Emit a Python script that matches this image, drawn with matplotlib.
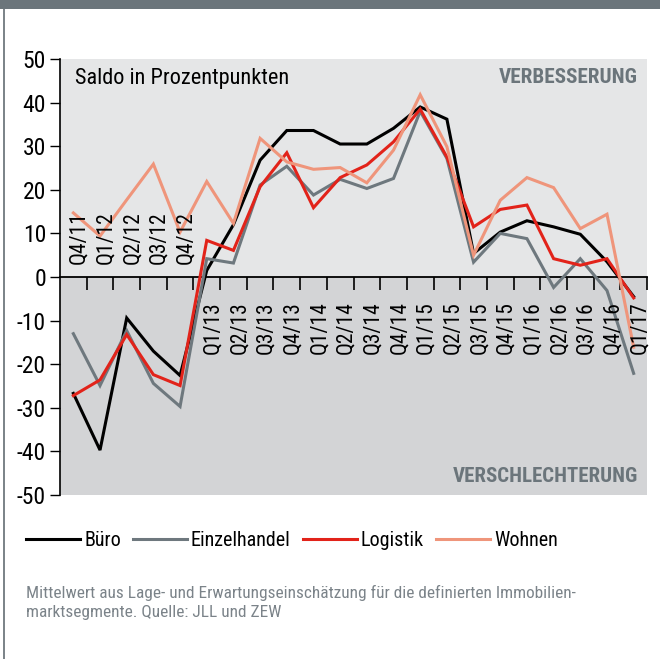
import matplotlib
matplotlib.use("Agg")
import matplotlib.pyplot as plt
from matplotlib.patches import Rectangle

plt.rcParams['font.family'] = ['Roboto Condensed', 'Liberation Sans Narrow', 'Roboto', 'DejaVu Sans']
plt.rcParams['axes.unicode_minus'] = False

quarters = ['Q4/11', 'Q1/12', 'Q2/12', 'Q3/12', 'Q4/12',
            'Q1/13', 'Q2/13', 'Q3/13', 'Q4/13',
            'Q1/14', 'Q2/14', 'Q3/14', 'Q4/14',
            'Q1/15', 'Q2/15', 'Q3/15', 'Q4/15',
            'Q1/16', 'Q2/16', 'Q3/16', 'Q4/16', 'Q1/17']

buero = [-26.7, -39.7, -9.4, -17.0, -22.6, 1.5, 12.0, 26.8, 33.6, 33.6, 30.5,
         30.5, 34.1, 39.0, 36.2, 5.4, 10.3, 12.9, 11.5, 9.8, 3.5, -4.5]
einzelhandel = [-13.0, -24.9, -12.3, -24.4, -29.7, 4.2, 3.2, 21.1, 25.4, 18.8, 22.4,
                20.3, 22.6, 38.0, 27.2, 3.4, 10.0, 8.8, -2.4, 4.2, -3.1, -22.1]
logistik = [-27.2, -23.6, -13.2, -22.4, -24.9, 8.4, 6.1, 20.7, 28.5, 15.9, 22.8,
            25.7, 31.0, 38.5, 27.5, 11.5, 15.5, 16.5, 4.2, 2.7, 4.2, -4.8]
wohnen = [14.7, 9.4, 17.7, 25.9, 10.3, 21.9, 12.3, 31.8, 26.4, 24.7, 25.1,
          21.6, 29.1, 41.8, 29.9, 5.0, 17.6, 22.8, 20.5, 11.1, 14.4, -16.1]

series = [('Büro', buero, '#000000'),
          ('Einzelhandel', einzelhandel, '#6e787e'),
          ('Logistik', logistik, '#e2231a'),
          ('Wohnen', wohnen, '#ef957b')]

W, H = 660, 659
fig = plt.figure(figsize=(6.6, 6.59), dpi=100)
ax = fig.add_axes([60 / W, 1 - 495 / H, (647 - 60) / W, (495 - 59) / H])

# background: improvement / deterioration halves
ax.axhspan(0, 50, color='#e5e6e7', zorder=0, lw=0)
ax.axhspan(-50, 0, color='#d3d4d6', zorder=0, lw=0)

x = list(range(len(quarters)))
handles = []
for name, vals, col in series:
    h, = ax.plot(x, vals, color=col, lw=2.2, label=name, solid_joinstyle='miter', zorder=3)
    handles.append(h)

ax.set_xlim(-0.5, len(quarters) - 0.5)
ax.set_ylim(-50, 50)
ax.set_yticks(range(-50, 51, 10))
ax.tick_params(axis='y', direction='out', length=7, width=1, labelsize=17, pad=3)

# zero line with tick marks between the quarters
ax.spines['bottom'].set_position(('data', 0))
ax.spines['bottom'].set_linewidth(1.3)
ax.spines['bottom'].set_zorder(2.5)
ax.set_xticks([i + 0.5 for i in x])
ax.set_xticklabels([])
ax.tick_params(axis='x', direction='out', length=9, width=1.2)
ax.spines['left'].set_linewidth(1.2)
ax.spines['top'].set_visible(False)
ax.spines['right'].set_visible(False)

for i, q in enumerate(quarters):
    if i < 5:
        ax.text(i + 0.22, 3.0, q, rotation=90, ha='center', va='bottom', fontsize=15.5)
    else:
        ax.text(i + 0.22, -5.6, q, rotation=90, ha='center', va='top', fontsize=15.5)

ax.text(0.06, 45.6, 'Saldo in Prozentpunkten', fontsize=16, va='center', ha='left')
ax.text(21.17, 45.8, 'VERBESSERUNG', fontsize=15.2, fontweight='bold', color='#6b757b',
        va='center', ha='right')
ax.text(21.15, -45.7, 'VERSCHLECHTERUNG', fontsize=15, fontweight='bold', color='#6b757b',
        va='center', ha='right')

# frame decorations
fig.patches.append(Rectangle((0, 1 - 9 / H), 1, 9 / H, transform=fig.transFigure,
                             color='#6b757b', lw=0))
fig.patches.append(Rectangle((2.5 / W, 0), 2.5 / W, 1 - 9 / H, transform=fig.transFigure,
                             color='#7d858a', lw=0))

fig.legend(handles=handles, labels=[s[0] for s in series], loc='center left',
           bbox_to_anchor=(26 / W, 1 - 541 / H), ncol=4, frameon=False, fontsize=14.5,
           handlelength=2.68, handletextpad=0.2, columnspacing=0.6,
           borderpad=0, borderaxespad=0)

fig.text(26 / W, 1 - 593 / H,
         'Mittelwert aus Lage- und Erwartungseinschätzung für die definierten Immobilien-',
         fontsize=12.4, color='#7b8389', va='center', ha='left')
fig.text(26 / W, 1 - 613 / H, 'marktsegmente. Quelle: JLL und ZEW',
         fontsize=12.4, color='#7b8389', va='center', ha='left')

fig.savefig('out.png', dpi=100)
